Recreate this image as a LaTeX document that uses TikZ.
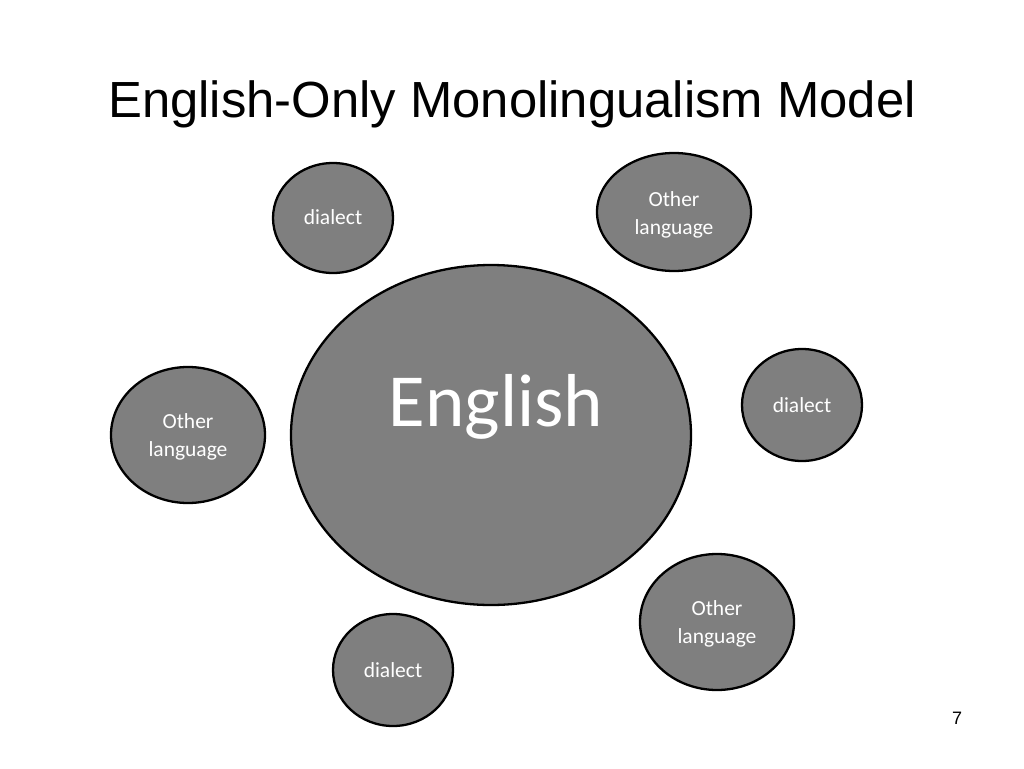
\documentclass[tikz,border=0pt]{standalone}
\usepackage{fontspec}
\setmainfont{Carlito}
\newfontfamily\arialfont{Liberation Sans}
\begin{document}
\begin{tikzpicture}[x=1pt,y=-1pt,
  bubble/.style={draw=black,line width=2.3pt,fill=bubblegray},
  lbl/.style={text=white,font=\fontsize{21.5}{28}\selectfont,align=center,inner sep=0pt}]
\definecolor{bubblegray}{HTML}{7F7F7F}
\useasboundingbox[fill=white] (0,0) rectangle (1024,768);
\node[font=\arialfont\fontsize{50.8}{56}\selectfont,anchor=base,inner sep=0pt] (title) at (512,117) {English-Only Monolingualism Model};
% big circle
\draw[bubble] (491,435) ellipse [x radius=200,y radius=170];
\node[text=white,font=\fontsize{75}{80}\selectfont,anchor=base,inner sep=0pt] (english) at (496,426) {English};
% small bubbles
\draw[bubble] (333,218) ellipse [x radius=60,y radius=55];
\node[lbl] (d1) at (333,217) {dialect};
\draw[bubble] (674,212) ellipse [x radius=77,y radius=59];
\node[lbl] (o1) at (674,215) {Other\\language};
\draw[bubble] (802,405) ellipse [x radius=60,y radius=56];
\node[lbl] (d2) at (802,405) {dialect};
\draw[bubble] (188,435) ellipse [x radius=77,y radius=68];
\node[lbl] (o2) at (188,437) {Other\\language};
\draw[bubble] (717,622) ellipse [x radius=77,y radius=68];
\node[lbl] (o3) at (717,624) {Other\\language};
\draw[bubble] (393,670) ellipse [x radius=60,y radius=56];
\node[lbl] (d3) at (393,670) {dialect};
\node[font=\arialfont\fontsize{18}{20}\selectfont] (page) at (957,718) {7};
\end{tikzpicture}
\end{document}
